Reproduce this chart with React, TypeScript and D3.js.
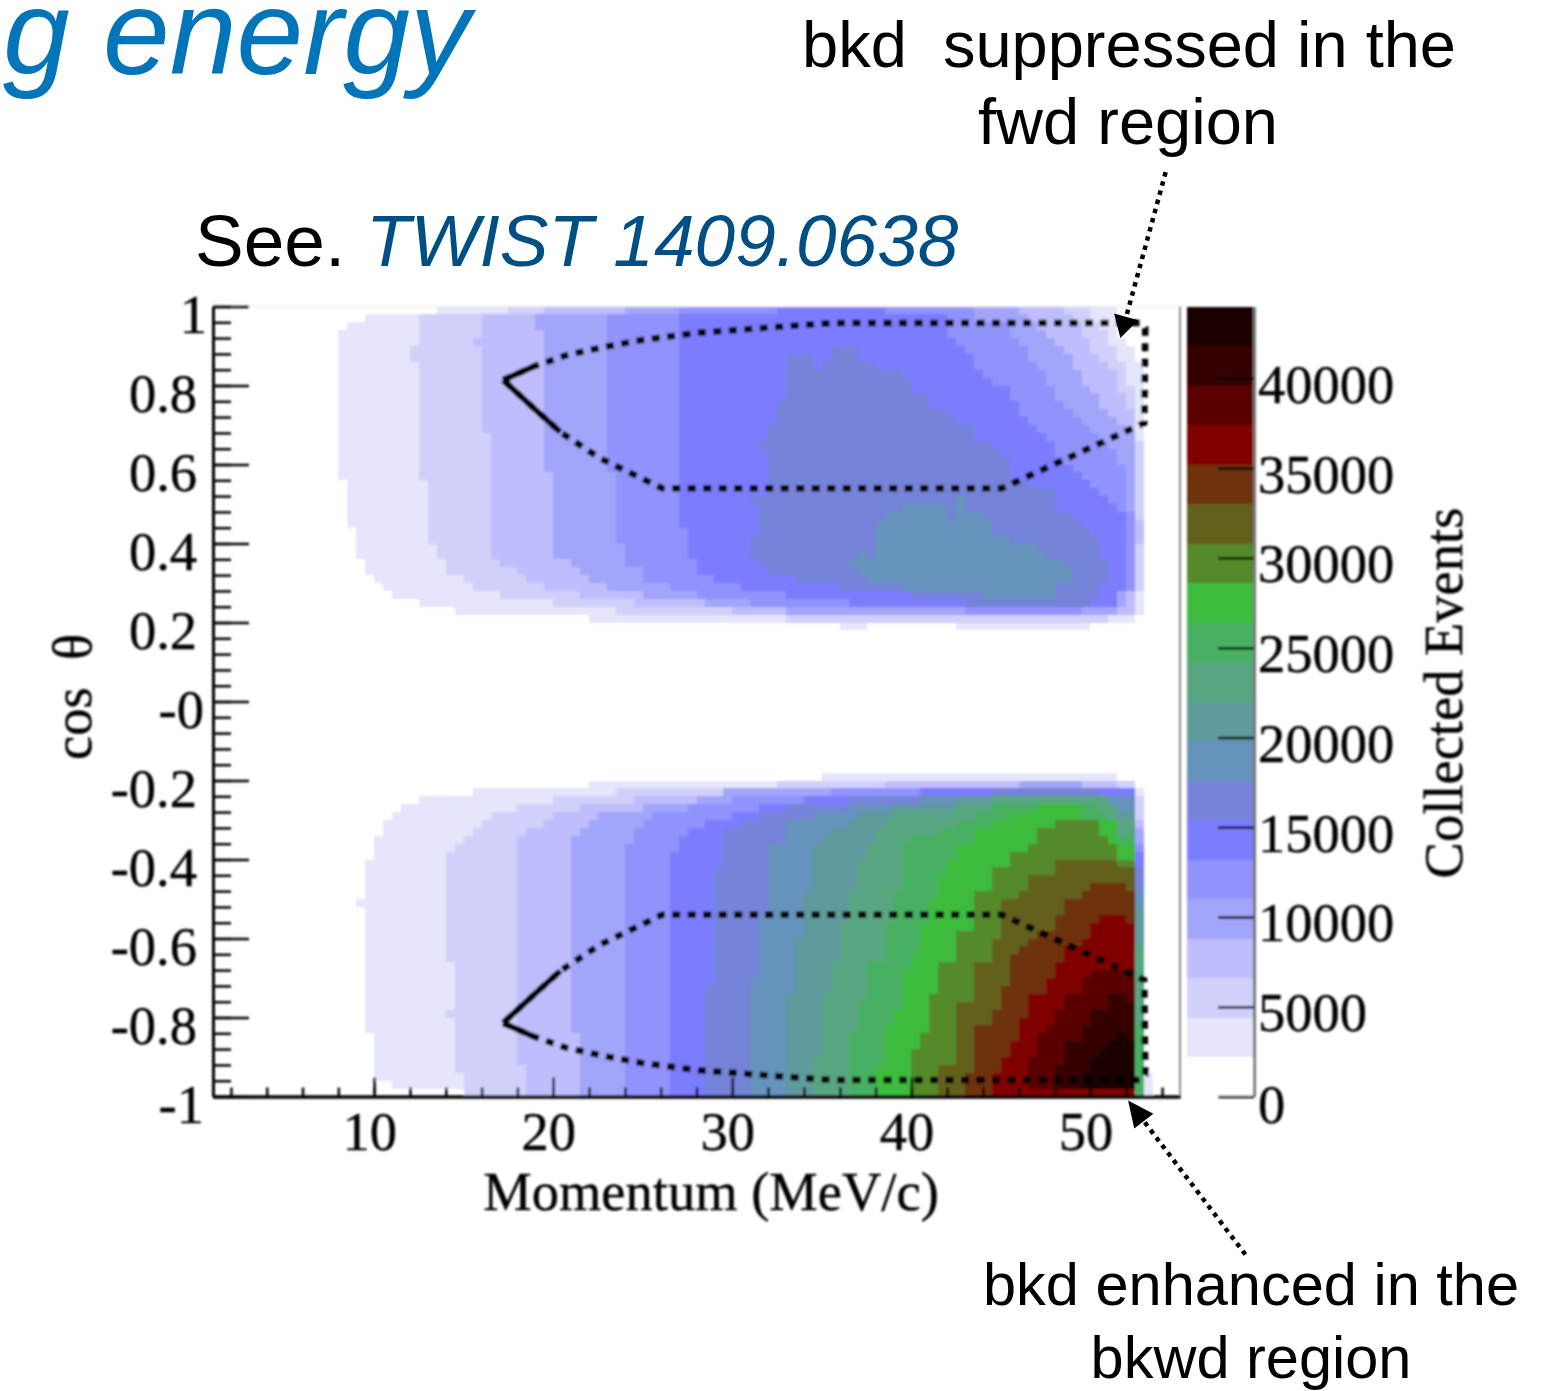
import React, { useEffect, useRef } from 'react';
import * as d3 from 'd3';

type Pt = [number, number];

// colour of each 2200-event band, from the palette (band 0 is left white)
const bandColors = ['#ffffff', '#e5e5fb', '#d0d0fb', '#bfbdfd', '#a2a6fa', '#9093fb', '#7c7cff', '#7583d9', '#6593bb', '#5f9a9c',
  '#58a680', '#47b063', '#3dbb3d', '#558a2b', '#63611d', '#6e3010', '#800000', '#5a0000', '#350000', '#1a0000'];

const eventTicks = [0, 5000, 10000, 15000, 20000, 25000, 30000, 35000, 40000];
const momentumMajor = [10, 20, 30, 40, 50];
const momentumMinor = d3.range(2, 55, 2);
const cosMajor = [1, 0.8, 0.6, 0.4, 0.2, 0, -0.2, -0.4, -0.6, -0.8, -1];
const cosLabels = ['1', '0.8', '0.6', '0.4', '0.2', '-0', '-0.2', '-0.4', '-0.6', '-0.8', '-1'];

// contour outlines, [momentum, cos theta], forward lobe, band 1 upwards
const top1: Pt[] = [[13.5,1],[13.5,.98],[9.5,.98],[9.5,.96],[8.5,.96],[8.5,.94],[8,.94],[8,.56],[8.5,.56],[8.5,.44],[9,.44],[9,.36],[9.5,.36],[9.5,.32],[10,.32],[10,.3],[10.5,.3],[10.5,.28],[11,.28],[11,.26],[12.5,.26],[12.5,.24],[14.5,.24],[14.5,.22],[22,.22],[22,.2],[36,.2],[36,.18],[37.5,.18],[37.5,.2],[42.5,.2],[42.5,.18],[50,.18],[50,.2],[52.5,.2],[52.5,.22],[53,.22],[53,.87],[52.5,.87],[52.5,.91],[52,.91],[51.5,.95],[51.5,1]];
const top2: Pt[] = [[17.5,1],[17.5,.98],[12.5,.98],[12.5,.9],[12,.9],[12,.86],[12.5,.86],[12.5,.56],[13,.56],[13,.4],[13.5,.4],[13.5,.36],[14,.36],[14,.32],[15,.32],[15,.3],[15.5,.3],[15.5,.28],[17,.28],[17,.26],[20,.26],[20,.24],[23.5,.24],[23.5,.22],[33,.22],[33,.2],[51,.2],[51,.22],[52.5,.22],[52.5,.28],[53,.28],[53,.66],[52.5,.66],[52.5,.79],[52,.83],[51.5,.88],[51,.94],[50,.98],[50,1]];
const top3: Pt[] = [[19.5,1],[19.5,.98],[16,.98],[16,.92],[15.5,.92],[15.5,.9],[16,.9],[16,.68],[16.5,.68],[16.5,.36],[17,.36],[17,.34],[18,.34],[18,.32],[18.5,.32],[18.5,.3],[19.5,.3],[19.5,.28],[21.5,.28],[21.5,.26],[24.5,.26],[24.5,.24],[30,.24],[30,.22],[52.5,.22],[52.5,.4],[53,.4],[53,.46],[52.5,.46],[52.5,.72],[52,.76],[51.5,.82],[51,.86],[50,.9],[49.5,.94],[48.5,1]];
const top4: Pt[] = [[24,1],[24,.98],[19,.98],[19,.94],[19.5,.94],[19.5,.58],[20,.58],[20,.36],[21,.36],[21,.34],[21.5,.34],[21.5,.32],[22,.32],[22,.3],[23,.3],[23,.28],[25,.28],[25,.26],[28.5,.26],[28.5,.24],[33,.24],[33,.22],[51.5,.22],[51.5,.24],[52,.24],[52,.28],[52.5,.28],[52.5,.68],[52,.7],[51.5,.72],[50.5,.76],[49.5,.82],[49,.86],[48,.92],[47.5,.94],[46,1]];
const top5: Pt[] = [[27,1],[27,.98],[23,.98],[23,.58],[23.5,.58],[23.5,.4],[24,.4],[24,.34],[25,.34],[25,.3],[26.5,.3],[26.5,.28],[28,.28],[28,.26],[31,.26],[31,.24],[43,.24],[43,.22],[49.5,.22],[49.5,.24],[51.5,.24],[51.5,.28],[52.5,.28],[52.5,.48],[52,.48],[52,.6],[51.5,.62],[51,.66],[49.5,.72],[49,.74],[48,.78],[47.5,.82],[47,.86],[46.5,.88],[46,.92],[45.5,.92],[45.5,.96],[43.5,.96],[43.5,1]];
const top6: Pt[] = [[32.5,1],[32.5,.98],[27,.98],[27,.44],[27.5,.44],[27.5,.36],[28,.36],[28,.32],[29,.32],[29,.3],[30.5,.3],[30.5,.28],[33,.28],[33,.26],[36.5,.26],[36.5,.24],[51.5,.24],[51.5,.28],[52,.28],[52,.48],[51.5,.5],[51,.52],[50.5,.54],[50,.56],[49.5,.58],[49,.6],[48,.64],[47.5,.68],[47,.7],[46.5,.7],[46,.76],[45.5,.76],[45.5,.8],[45,.8],[44.5,.82],[43.5,.86],[43,.9],[42,.94],[42,.98],[38.5,.98],[38.5,1]];
const top7: Pt[] = [[35.5,.88],[36,.9],[37,.9],[37,.86],[39,.84],[40,.82],[40,.78],[41,.78],[41,.74],[42,.74],[42.5,.7],[43.5,.7],[43.5,.66],[44.5,.66],[45.5,.6],[45.5,.56],[48,.54],[48,.48],[49,.48],[49.5,.44],[50.5,.42],[50.5,.36],[51,.36],[51,.3],[50.5,.3],[50.5,.26],[50,.26],[50,.24],[43,.24],[43,.26],[37.5,.28],[34.5,.3],[33,.32],[31.5,.34],[31.5,.36],[31,.36],[31,.42],[31.5,.42],[31.5,.5],[31,.5],[31.5,.52],[32,.52],[32,.64],[31.5,.66],[32.5,.7],[32.5,.74],[33,.78],[33,.86],[33.5,.88],[34.5,.88],[34.5,.83]];
const top8: Pt[] = [[38,.46],[39.5,.48],[40,.5],[42,.5],[42,.46],[42.5,.46],[42.5,.52],[43,.52],[43,.46],[43.5,.48],[44,.48],[44,.46],[44.5,.46],[44.5,.42],[45.5,.42],[45.5,.4],[47,.4],[47,.38],[48,.36],[49,.34],[49,.32],[49.5,.32],[48.5,.3],[48,.28],[48,.26],[44,.26],[44,.28],[39.5,.28],[39.5,.3],[37.5,.3],[37.5,.32],[36.5,.34],[36.5,.36],[37,.36],[37,.38],[37.5,.38],[37.5,.36],[38,.36]];

// backward lobe
const bot1: Pt[] = [[22,-.2],[35,-.2],[35,-.18],[51.5,-.18],[51.5,-.2],[52.5,-.2],[52.5,-.22],[53,-.22],[53,-.94],[53.5,-.94],[53.5,-1],[15,-1],[15,-.98],[11,-.98],[11,-.96],[10,-.96],[10,-.84],[9.5,-.84],[9.5,-.52],[9,-.52],[9,-.5],[9.5,-.5],[9.5,-.4],[10,-.4],[10,-.34],[10.5,-.34],[10.5,-.3],[11,-.3],[11,-.28],[11.5,-.28],[11.5,-.26],[12.5,-.26],[12.5,-.24],[15.5,-.24],[15.5,-.22],[22,-.22]];
const bot2: Pt[] = [[32.5,-.2],[52.5,-.2],[52.5,-.24],[53,-.24],[53,-1],[15,-1],[15,-.94],[14.5,-.94],[14.5,-.8],[14,-.8],[14,-.78],[14.5,-.78],[14.5,-.66],[14,-.66],[14,-.38],[14.5,-.38],[14.5,-.36],[15,-.36],[15,-.34],[15.5,-.34],[15.5,-.32],[16,-.32],[16,-.3],[16.5,-.3],[16.5,-.28],[18,-.28],[18,-.26],[20,-.26],[20,-.24],[23.5,-.24],[23.5,-.22],[32.5,-.22]];
const bot3: Pt[] = [[38.5,-.2],[51.5,-.2],[51.5,-.22],[52.5,-.22],[52.5,-.3],[53,-.3],[53,-1],[18.5,-1],[18.5,-.92],[18,-.92],[18,-.34],[18.5,-.34],[18.5,-.32],[19.5,-.32],[19.5,-.3],[20,-.3],[20,-.28],[21.5,-.28],[21.5,-.26],[24.5,-.26],[24.5,-.24],[29.5,-.24],[29.5,-.22],[38.5,-.22]];
const bot4: Pt[] = [[46,-.2],[49.5,-.2],[49.5,-.22],[52.5,-.22],[52.5,-.32],[53,-.32],[53,-1],[21.5,-1],[21.5,-.84],[21,-.84],[21,-.34],[21.5,-.34],[21.5,-.32],[22,-.32],[22,-.3],[22.5,-.3],[22.5,-.28],[25,-.28],[25,-.26],[28,-.26],[28,-.24],[29.5,-.24],[29.5,-.22],[46,-.22]];
const bot5: Pt[] = [[24,-1],[24,-.36],[24.5,-.36],[24.5,-.32],[25,-.32],[25,-.3],[25.5,-.3],[25.5,-.28],[27.5,-.28],[27.5,-.26],[30,-.26],[30,-.24],[35.5,-.24],[35.5,-.22],[52.5,-.22],[52.5,-.36],[53,-.36],[53,-1]];
const bot6: Pt[] = [[26.5,-1],[26.5,-.38],[27,-.38],[27,-.34],[27.5,-.34],[27.5,-.32],[28.5,-.32],[28.5,-.3],[30,-.3],[30,-.28],[31.5,-.28],[31.5,-.26],[34,-.26],[34,-.24],[40.5,-.24],[40.5,-.22],[52.5,-.22],[52.5,-.38],[53,-.38],[53,-1]];
const bot7: Pt[] = [[28.5,-1],[28.5,-.72],[29,-.72],[29,-.42],[29.5,-.42],[29.5,-.32],[30.5,-.32],[30.5,-.3],[31.5,-.3],[31.5,-.28],[33,-.28],[33,-.26],[36.5,-.26],[36.5,-.24],[44.5,-.24],[44.5,-.22],[50.5,-.22],[50.5,-.24],[52.5,-.24],[52.5,-.42],[53,-.42],[53,-1]];
const bot8: Pt[] = [[31,-1],[31,-.7],[31.5,-.7],[31.5,-.54],[32,-.54],[32,-.36],[33,-.36],[33,-.3],[34.5,-.3],[34.5,-.28],[36.5,-.28],[36.5,-.26],[40.5,-.26],[40.5,-.24],[52.5,-.24],[52.5,-.48],[53,-.48],[53,-1]];
const bot9: Pt[] = [[33,-1],[33,-.74],[33.5,-.74],[33.5,-.6],[34,-.6],[34,-.48],[34.5,-.48],[34.5,-.36],[35,-.36],[35,-.34],[35.5,-.34],[35.5,-.32],[36.5,-.32],[36.5,-.3],[37,-.3],[37,-.28],[39,-.28],[39,-.26],[42.5,-.26],[42.5,-.24],[50.5,-.24],[50.5,-.26],[51.5,-.26],[51.5,-.28],[52.5,-.28],[52.5,-.52],[53,-.52],[53,-1]];
const bot10: Pt[] = [[34.5,-1],[34.5,-.9],[35,-.9],[35,-.74],[35.5,-.74],[35.5,-.66],[36,-.66],[36,-.56],[36.5,-.56],[36.5,-.48],[37,-.48],[37,-.4],[37.5,-.4],[37.5,-.36],[38,-.36],[38,-.32],[38.5,-.32],[38.5,-.3],[39,-.3],[39,-.28],[42.5,-.28],[42.5,-.26],[44.5,-.26],[44.5,-.24],[51,-.24],[51,-.26],[51.5,-.26],[51.5,-.3],[52.5,-.3],[52.5,-.62],[53,-.62],[53,-1]];
const bot11: Pt[] = [[36.5,-1],[36.5,-.84],[37,-.84],[37,-.76],[37.5,-.76],[37.5,-.66],[38.5,-.66],[38.5,-.56],[39,-.56],[39,-.48],[39.5,-.48],[39.5,-.36],[40,-.36],[40,-.34],[41.5,-.34],[41.5,-.32],[42.5,-.32],[42.5,-.3],[43.5,-.3],[43.5,-.28],[44.5,-.28],[44.5,-.26],[50.5,-.26],[50.5,-.28],[51,-.28],[51,-.3],[51.5,-.3],[51.5,-.34],[52.5,-.34],[52.5,-.82],[53,-.82],[53,-1]];
const bot12: Pt[] = [[38,-1],[38,-.92],[38.5,-.92],[38.5,-.82],[39,-.82],[39,-.78],[39.5,-.78],[39.5,-.68],[40,-.68],[40,-.64],[40.5,-.64],[40.5,-.56],[41,-.56],[41,-.5],[41.5,-.5],[41.5,-.44],[42,-.44],[42,-.4],[42.5,-.4],[42.5,-.36],[43.5,-.36],[43.5,-.32],[44.5,-.32],[44.5,-.3],[45.5,-.3],[45.5,-.28],[47,-.28],[47,-.26],[49.5,-.26],[49.5,-.3],[51.5,-.3],[51.5,-.36],[52.5,-.36],[52.5,-1]];
const bot13: Pt[] = [[40,-1],[40,-.88],[40.5,-.88],[40.5,-.84],[41,-.84],[41,-.74],[41.5,-.74],[41.5,-.66],[42.5,-.66],[42.5,-.58],[43.5,-.58],[43.5,-.48],[44.5,-.48],[44.5,-.42],[45.5,-.42],[45.5,-.38],[46.5,-.38],[46.5,-.36],[47,-.36],[47,-.32],[48,-.32],[48,-.3],[50.5,-.3],[50.5,-.34],[51,-.34],[51,-.36],[51.5,-.36],[51.5,-.4],[52.5,-.4],[52.5,-1]];
const bot14: Pt[] = [[41.5,-1],[41.5,-.92],[42.5,-.92],[42.5,-.76],[43.5,-.76],[43.5,-.66],[44.5,-.66],[44.5,-.6],[45,-.6],[45,-.5],[46,-.5],[46,-.48],[46.5,-.48],[46.5,-.44],[48,-.44],[48,-.4],[51.5,-.4],[51.5,-.42],[52.5,-.42],[52.5,-1]];
const bot15: Pt[] = [[43,-1],[43,-.94],[43.5,-.94],[43.5,-.82],[44.5,-.82],[44.5,-.78],[45,-.78],[45,-.72],[45.5,-.72],[45.5,-.64],[46,-.64],[46,-.62],[46.5,-.62],[46.5,-.6],[47,-.6],[47,-.58],[48,-.58],[48,-.54],[48.5,-.54],[48.5,-.5],[49.5,-.5],[49.5,-.48],[50,-.48],[50,-.46],[52,-.46],[52,-.48],[52.5,-.48],[52.5,-1]];
const bot16: Pt[] = [[44.5,-1],[44.5,-.94],[45,-.94],[45,-.9],[45.5,-.9],[45.5,-.86],[46,-.86],[46,-.8],[46.5,-.8],[46.5,-.74],[47.5,-.74],[47.5,-.7],[48,-.7],[48,-.66],[48.5,-.66],[48.5,-.62],[49.5,-.62],[49.5,-.6],[50,-.6],[50,-.56],[50.5,-.56],[50.5,-.54],[52,-.54],[52,-.56],[52.5,-.56],[52.5,-1]];
const bot17: Pt[] = [[46.5,-.98],[46.5,-.9],[47,-.9],[47,-.84],[47.5,-.84],[47.5,-.82],[48,-.82],[48,-.78],[48.5,-.78],[48.5,-.74],[49.5,-.74],[49.5,-.7],[50,-.7],[50,-.68],[52.5,-.68],[52.5,-.98]];
const bot18: Pt[] = [[48,-.98],[48,-.92],[48.5,-.92],[48.5,-.86],[49.5,-.86],[49.5,-.82],[50,-.82],[50,-.78],[51,-.78],[51,-.74],[52,-.74],[52,-.76],[52.5,-.76],[52.5,-.98]];
const bot19: Pt[] = [[49.5,-.98],[49.5,-.94],[50,-.94],[50,-.9],[50.5,-.9],[50.5,-.88],[51,-.88],[51,-.86],[51.5,-.86],[51.5,-.84],[52,-.84],[52,-.86],[52.5,-.86],[52.5,-.98]];

const topBands = [top1, top2, top3, top4, top5, top6, top7, top8];
const botBands = [bot1, bot2, bot3, bot4, bot5, bot6, bot7, bot8, bot9, bot10, bot11, bot12, bot13, bot14, bot15, bot16, bot17, bot18, bot19];

// dotted selection box, forward side (backward side is its mirror in cos theta)
const boxMomentum = [17.2, 18.9, 20.75, 22.9, 24.95, 28, 32.7, 35.5, 52.8, 53.06, 53, 45.06, 26.07, 22.6, 20.4, 18.9, 17.2];
const boxCos = [0.814, 0.848, 0.877, 0.898, 0.915, 0.933, 0.949, 0.958, 0.958, 0.945, 0.705, 0.54, 0.54, 0.616, 0.682, 0.743, 0.814];

// arrows: tail and tip in axis units
const fwdArrow: Pt[] = [[54.2, 1.34], [51.67, 0.92]];
const bkwdArrow: Pt[] = [[58.65, -1.4], [52.1, -1.01]];

const SERIF = '"Liberation Serif", serif';
const SANS = '"Liberation Sans", sans-serif';

export default function App() {
  const ref = useRef<SVGSVGElement | null>(null);

  useEffect(() => {
    const svg = d3.select(ref.current);
    svg.selectAll('*').remove();

    const x = d3.scaleLinear().domain([1, 55]).range([213, 1180]);
    const y = d3.scaleLinear().domain([-1, 1]).range([1096.5, 306.5]);
    const z = d3.scaleLinear().domain([0, 44000]).range([1096.5, 306.5]);
    const bandW = 2200;

    const blur = svg.append('defs').append('filter').attr('id', 'soft')
      .attr('filterUnits', 'userSpaceOnUse').attr('x', 0).attr('y', 0).attr('width', 1568).attr('height', 1391);
    blur.append('feGaussianBlur').attr('stdDeviation', 0.9);

    const chart = svg.append('g').attr('filter', 'url(#soft)');

    // heat map on the 0.5 MeV/c x 0.02 binning, runs of equal band merged per row
    const heat = chart.append('g').attr('shape-rendering', 'crispEdges');
    const nx = 108, ny = 100;
    const bandAt = (m: number, c: number) => {
      const bands = c > 0 ? topBands : botBands;
      let level = 0;
      bands.forEach((p, i) => { if (d3.polygonContains(p, [m, c])) level = i + 1; });
      return level;
    };
    for (let j = 0; j < ny; j++) {
      const c0 = -1 + j * 0.02;
      let start = 0;
      let cur = bandAt(1.25, c0 + 0.01);
      for (let i = 1; i <= nx; i++) {
        const lv = i < nx ? bandAt(1.25 + i * 0.5, c0 + 0.01) : -1;
        if (lv !== cur) {
          if (cur > 0) {
            heat.append('rect')
              .attr('x', x(1 + start * 0.5)).attr('y', y(c0 + 0.02))
              .attr('width', x(1 + i * 0.5) - x(1 + start * 0.5)).attr('height', y(c0) - y(c0 + 0.02))
              .attr('fill', bandColors[cur]);
          }
          start = i;
          cur = lv;
        }
      }
    }

    // palette
    chart.append('g').attr('shape-rendering', 'crispEdges').selectAll('rect').data(bandColors).enter().append('rect')
      .attr('x', 1186.5).attr('width', 67)
      .attr('y', (d, i) => z((i + 1) * bandW)).attr('height', (d, i) => z(i * bandW) - z((i + 1) * bandW))
      .attr('fill', d => d);

    // frame
    chart.append('line').attr('x1', x(1)).attr('x2', x(55)).attr('y1', y(1)).attr('y2', y(1)).attr('stroke', '#ececec').attr('stroke-width', 1.5);
    chart.append('line').attr('x1', x(55)).attr('x2', x(55)).attr('y1', y(1)).attr('y2', y(-1)).attr('stroke', '#8a8a8a').attr('stroke-width', 2);

    const styleAxis = (g: any, w: number) => {
      g.selectAll('line').attr('stroke', '#000').attr('stroke-width', w);
      g.select('.domain').attr('stroke', '#000').attr('stroke-width', 3);
      g.selectAll('text').attr('font-family', SERIF).attr('font-size', 54.5).attr('fill', '#000')
        .attr('stroke', '#000').attr('stroke-width', 0.4);
    };

    // x axis
    const xMinor = chart.append('g').attr('transform', `translate(0,${y(-1)})`)
      .call(d3.axisBottom(x).tickValues(momentumMinor).tickSize(-9).tickSizeOuter(0).tickFormat(() => ''));
    styleAxis(xMinor, 2.5);
    const xMajor = chart.append('g').attr('transform', `translate(0,${y(-1)})`)
      .call(d3.axisBottom(x).tickValues(momentumMajor).tickSize(-19).tickSizeOuter(0).tickFormat(d3.format('d')));
    styleAxis(xMajor, 2.5);
    xMajor.selectAll('text').attr('y', 53.5).attr('x', -5).attr('dy', 0);

    // y axis
    const yMinor = chart.append('g').attr('transform', `translate(${x(1)},0)`)
      .call(d3.axisLeft(y).tickValues(d3.range(0, 51).map(i => -1 + i * 0.04)).tickSize(-18).tickSizeOuter(0).tickFormat(() => ''));
    styleAxis(yMinor, 2.5);
    const yMajor = chart.append('g').attr('transform', `translate(${x(1)},0)`)
      .call(d3.axisLeft(y).tickValues(cosMajor).tickSize(-36).tickSizeOuter(0).tickFormat((d, i) => cosLabels[i]));
    styleAxis(yMajor, 2.5);
    yMajor.selectAll('text')
      .attr('dy', 0).attr('y', 26)
      .attr('x', (d, i) => (cosLabels[i].includes('.') ? -16 : cosLabels[i] === '1' ? -6 : -9));

    // palette axis
    const zAxis = chart.append('g').attr('transform', 'translate(1254,0)')
      .call(d3.axisRight(z).tickValues(eventTicks).tickSize(-36).tickSizeOuter(0).tickFormat(d3.format('d')));
    styleAxis(zAxis, 2.5);
    zAxis.select('.domain').attr('stroke', '#777');
    zAxis.selectAll('text').attr('x', 4).attr('dy', 0).attr('y', (d: number) => (d === 0 ? 26 : 24));

    // axis titles
    const title = (t: string, tx: number, ty: number, rot: number, anchor = 'middle') => chart.append('text')
      .attr('transform', `translate(${tx},${ty}) rotate(${rot})`).attr('text-anchor', anchor)
      .attr('font-family', SERIF).attr('font-size', 54.5).attr('fill', '#000')
      .attr('stroke', '#000').attr('stroke-width', 0.4).attr('xml:space', 'preserve').text(t);
    title('Momentum (MeV/c)', 711, 1210, 0);
    title('cos  θ', 91, 697, -90);
    title('Collected Events', 1462, 693, -90);

    // selection boxes
    const line = d3.line<Pt>().x(d => x(d[0])).y(d => y(d[1]));
    [1, -1].forEach(sign => {
      const pts: Pt[] = boxMomentum.map((m, i) => [m, sign * boxCos[i]]);
      chart.append('path').attr('d', line(pts)).attr('fill', 'none').attr('stroke', '#000').attr('stroke-width', 6.5).attr('stroke-dasharray', '8 7.5');
      // the short pieces next to the tip read as a solid line
      chart.append('path').attr('d', line(pts.slice(0, 2))).attr('fill', 'none').attr('stroke', '#000').attr('stroke-width', 6);
      chart.append('path').attr('d', line(pts.slice(-3))).attr('fill', 'none').attr('stroke', '#000').attr('stroke-width', 6);
    });

    // annotation arrows
    const arrow = (a: Pt[], len: number, half: number) => {
      const [x0, y0] = [x(a[0][0]), y(a[0][1])];
      const [x1, y1] = [x(a[1][0]), y(a[1][1])];
      const d = Math.hypot(x1 - x0, y1 - y0);
      const ux = (x1 - x0) / d, uy = (y1 - y0) / d;
      const bx = x1 - ux * len, by = y1 - uy * len;
      svg.append('line').attr('x1', x0).attr('y1', y0).attr('x2', bx).attr('y2', by)
        .attr('stroke', '#000').attr('stroke-width', 4.5).attr('stroke-dasharray', '4.5 5');
      svg.append('path').attr('fill', '#000')
        .attr('d', `M${x1},${y1}L${bx - uy * half},${by + ux * half}L${bx + uy * half},${by - ux * half}Z`);
    };
    arrow(fwdArrow, 22, 12.5);
    arrow(bkwdArrow, 26, 12);

    // slide texts
    const note = (t: string, tx: number, ty: number, size: number, fill = '#000', anchor = 'middle', italic = false) => svg.append('text')
      .attr('x', tx).attr('y', ty).attr('text-anchor', anchor).attr('font-family', SANS).attr('font-size', size)
      .attr('font-style', italic ? 'italic' : 'normal').attr('fill', fill).attr('xml:space', 'preserve').text(t);
    note('g energy', 3, 74, 120, '#0075ba', 'start', true);
    note('See.', 195, 266, 73, '#000', 'start');
    note('TWIST 1409.0638', 366, 266, 73, '#004f84', 'start', true);
    note('bkd  suppressed in the', 1129, 67, 65);
    note('fwd region', 1128, 144, 65);
    note('bkd enhanced in the', 1251, 1305, 59.5);
    note('bkwd region', 1251, 1378, 59.5);
  }, []);

  return <svg ref={ref} width={1568} height={1391} style={{ position: 'absolute', left: 0, top: 0, display: 'block', background: '#fff' }} />;
}
